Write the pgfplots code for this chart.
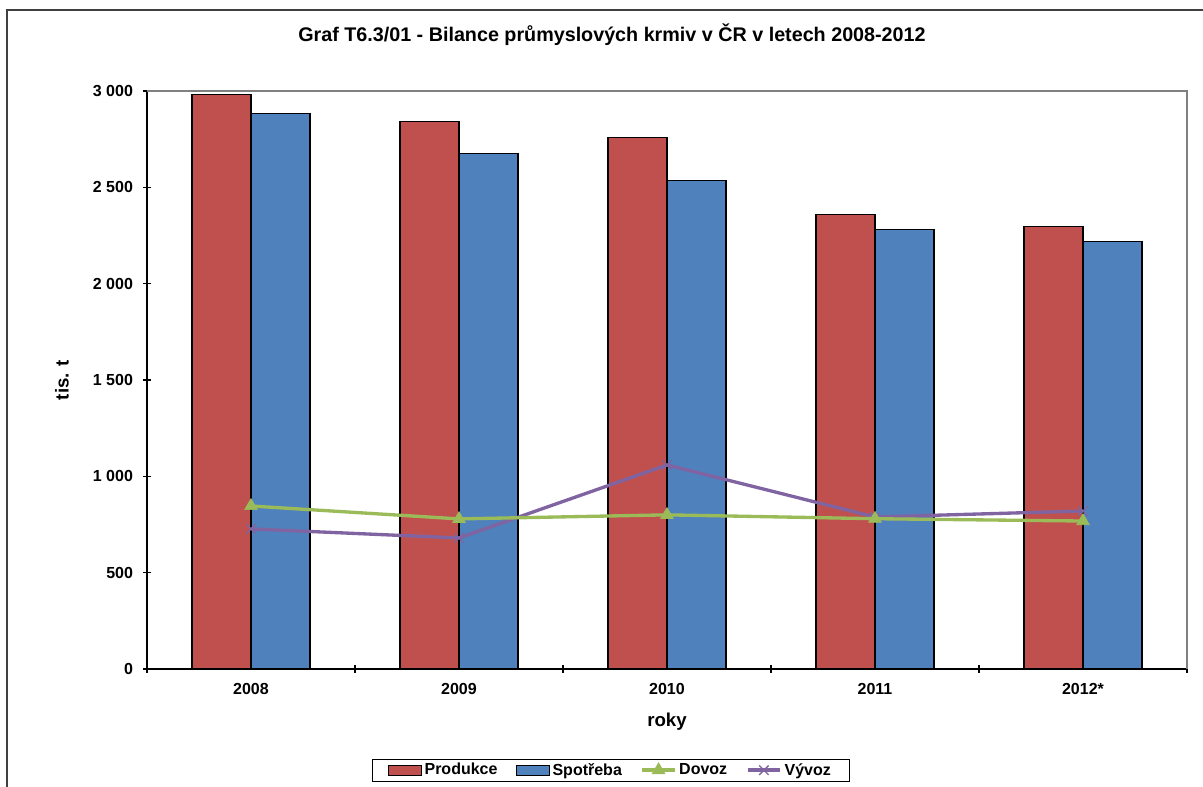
\documentclass[border=0pt]{standalone}
\usepackage{pgfplots}
\pgfplotsset{compat=1.18}
\usepackage{fontspec}
\setmainfont{Liberation Sans}

\definecolor{cProd}{HTML}{C0504D}
\definecolor{cSpot}{HTML}{4F81BD}
\definecolor{cDov}{HTML}{9BBB59}
\definecolor{cVyv}{HTML}{8064A2}

\pgfplotsset{
  barleg/.style={legend image code/.code={\draw[##1, line width=0.8pt] (0pt,-3.75pt) rectangle (24.5pt,3.75pt);}},
  lineleg/.style={legend image code/.code={\draw[mark repeat=2, mark phase=2, ##1] plot coordinates {(0pt,0pt) (12.25pt,0pt) (24.5pt,0pt)};}},
}

\begin{document}
\begin{tikzpicture}[x=0.75pt,y=0.75pt,font=\bfseries\fontsize{12}{14}\selectfont]
\path[use as bounding box] (0,0) rectangle (1203,787);
% outer chart frame (cut at the right and bottom)
\draw[black!75, line width=0.9pt] (7,0) -- (7,777) -- (1203,777);
\node[font=\bfseries\fontsize{14.8}{17}\selectfont] at (612,752) {Graf T6.3/01 - Bilance průmyslových krmiv v ČR v letech 2008-2012};

\begin{axis}[
    at={(110.25pt,88.5pt)}, anchor=south west,
    scale only axis, width=780pt, height=433.5pt,
    xmin=-0.5, xmax=4.5, ymin=0, ymax=3000,
    axis lines=left, axis line style={-, black, line width=0.8pt},
    xtick={0,1,2,3,4},
    xticklabels={2008,2009,2010,2011,2012*},
    major x tick style={draw=none},
    minor xtick={-0.5,0.5,1.5,2.5,3.5,4.5},
    minor x tick style={black, line width=0.8pt},
    minor tick length=6pt,
    ytick={0,500,1000,1500,2000,2500,3000},
    yticklabels={0,500,1 000,1 500,2 000,2 500,3 000},
    major y tick style={black, line width=0.8pt},
    major tick length=6pt,
    tick align=center,
    xticklabel style={yshift=-4pt},
    yticklabel style={xshift=-4pt},
    xlabel={roky}, ylabel={tis. t},
    label style={font=\bfseries\fontsize{14}{16}\selectfont},
    xlabel style={at={(axis description cs:0.5,-0.0917)}, anchor=center},
    ylabel style={at={(axis description cs:-0.0817,0.5)}, anchor=center},
    legend style={at={(0.446,-0.175)}, anchor=center, draw=black, line width=0.8pt,
        font=\bfseries\fontsize{12}{14}\selectfont,
        legend columns=-1, inner xsep=12pt, inner ysep=1pt,
        /tikz/every even column/.append style={column sep=12pt},
        /tikz/every odd column/.append style={column sep=0pt}},
    legend cell align=left,
    after end axis/.code={
        \draw[black!50, line width=0.8pt] (rel axis cs:0,1) -- (rel axis cs:1,1) -- (rel axis cs:1,0);
    },
]
\addplot[ybar, bar width=44.25pt, bar shift=-22.125pt, fill=cProd, draw=black, line width=0.8pt, barleg]
    coordinates {(0,2980) (1,2840) (2,2757) (3,2357) (4,2295)};
\addplot[ybar, bar width=44.25pt, bar shift=22.125pt, fill=cSpot, draw=black, line width=0.8pt, barleg]
    coordinates {(0,2882) (1,2674) (2,2534) (3,2279) (4,2217)};
\addplot[cVyv, line width=2.5pt, mark=x, mark size=5pt, mark options={line width=1pt}, forget plot]
    coordinates {(0,727) (1,680) (2,1059) (3,789) (4,820)};
\addplot[cDov, line width=2.5pt, mark=triangle*, mark size=5.5pt, mark options={line width=0.5pt}, lineleg]
    coordinates {(0,846) (1,779) (2,800) (3,780) (4,768)};
\addlegendimage{cVyv, line width=2.5pt, mark=x, mark size=5pt, mark options={line width=1pt}, lineleg}
\legend{Produkce,Spotřeba,Dovoz,Vývoz}
\end{axis}
\end{tikzpicture}
\end{document}
